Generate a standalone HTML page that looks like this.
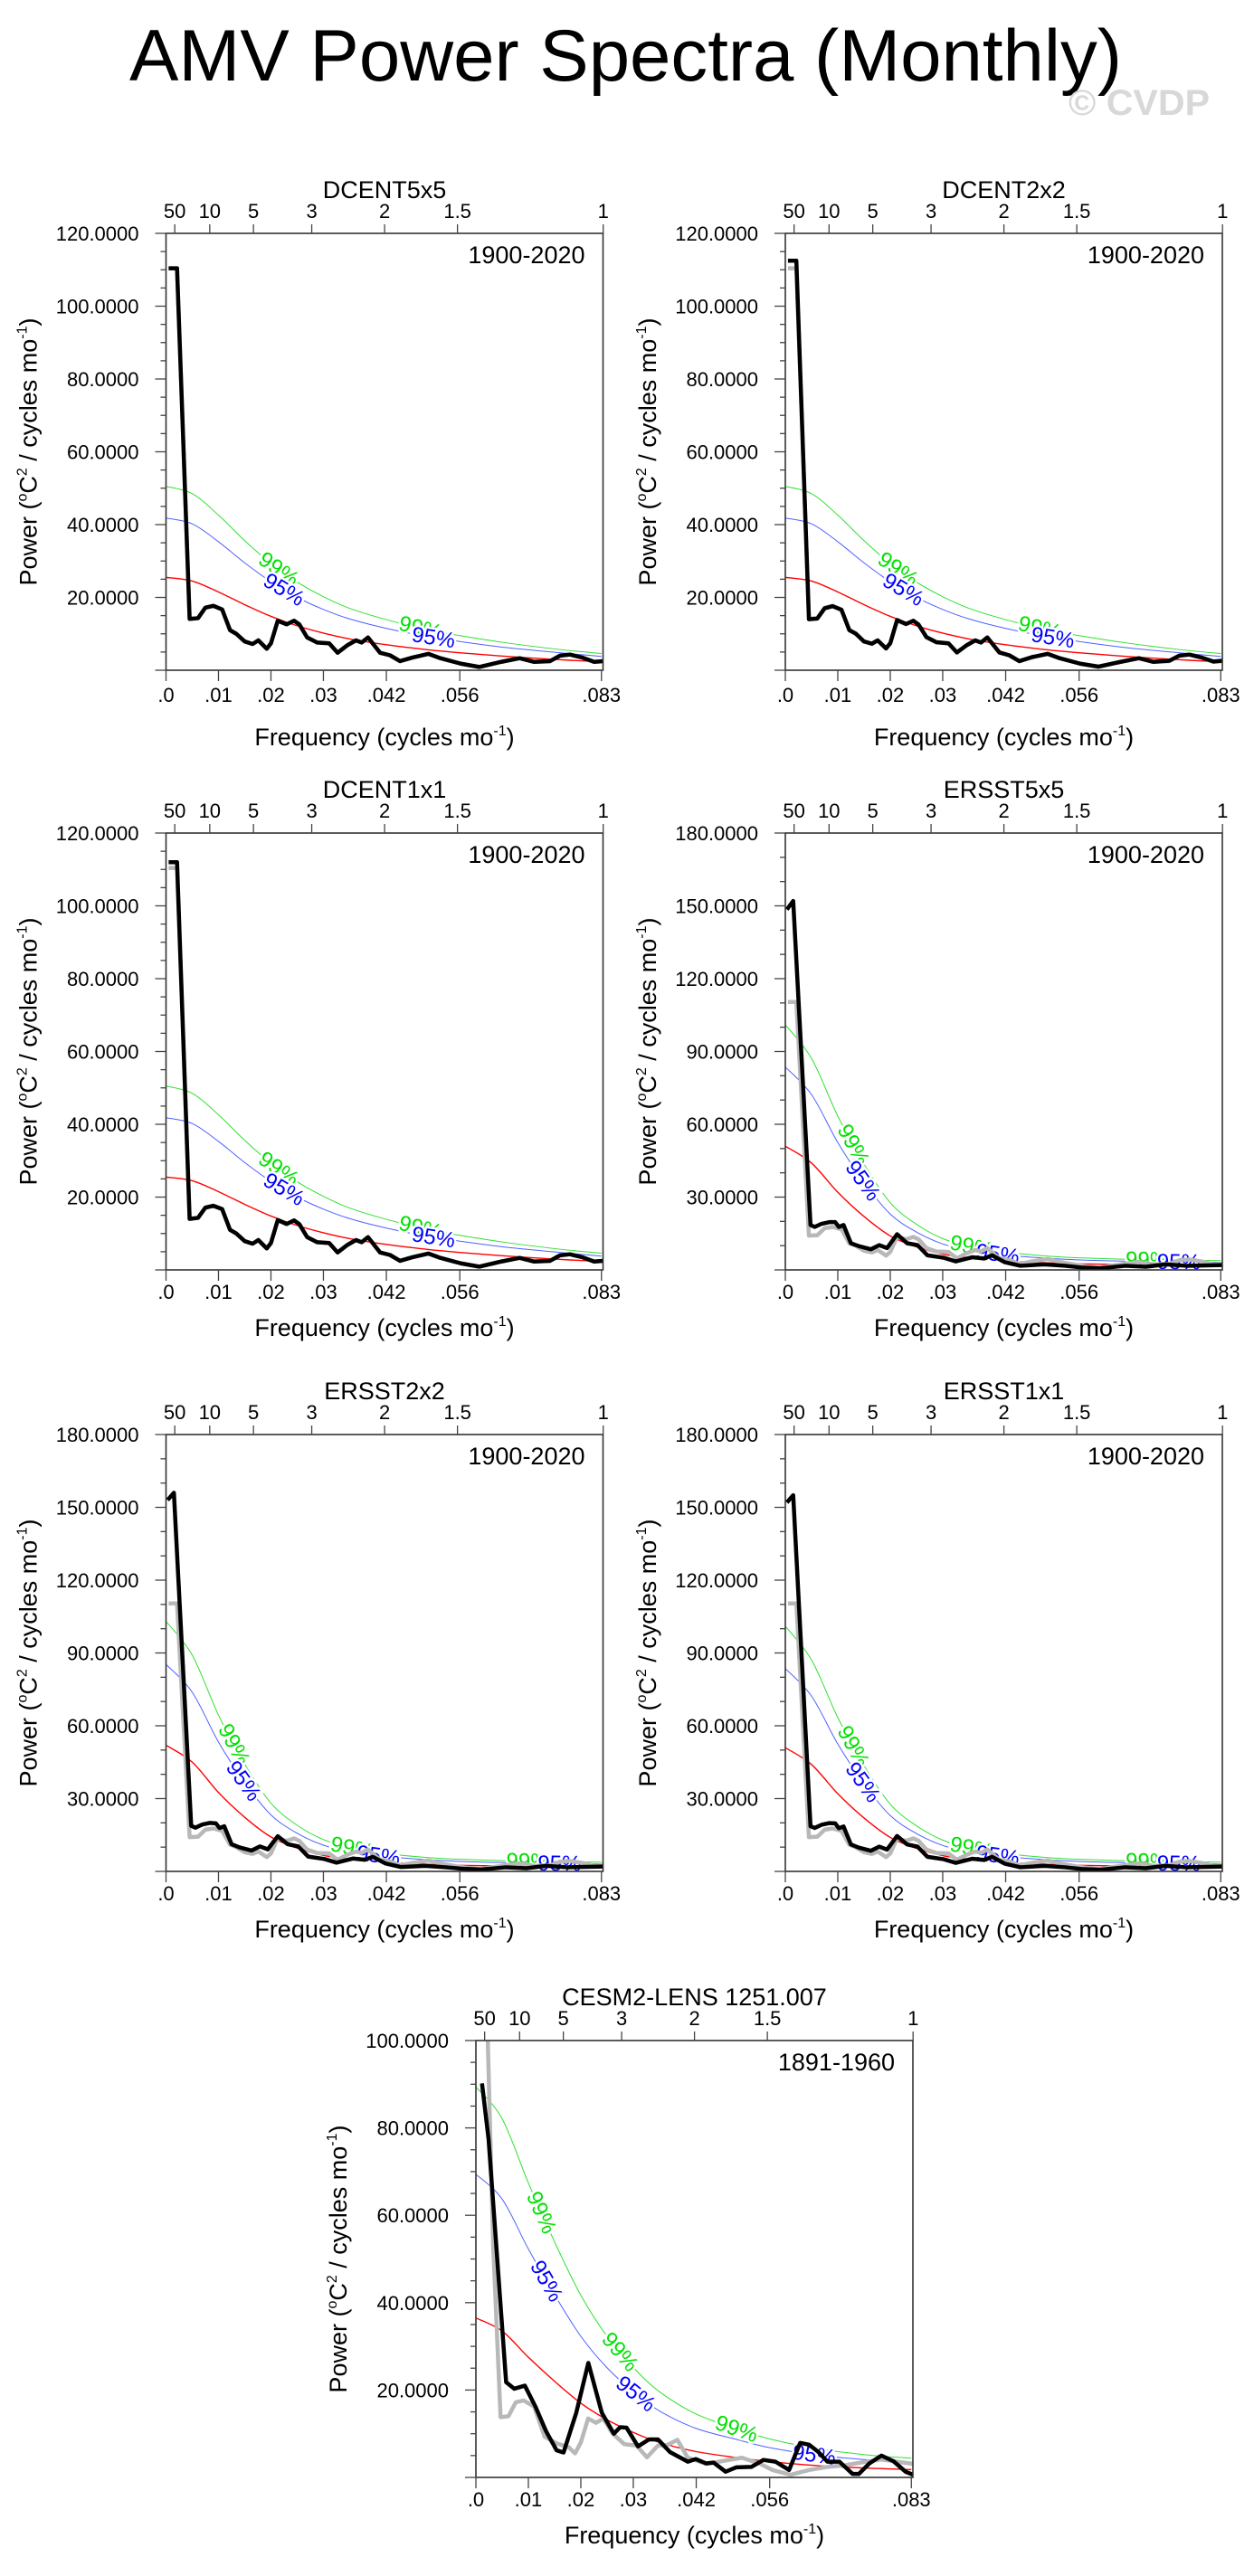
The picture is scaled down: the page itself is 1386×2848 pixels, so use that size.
<!DOCTYPE html>
<html><head><meta charset="utf-8">
<style>
html,body{margin:0;padding:0;background:#fff;}
svg{display:block;font-family:"Liberation Sans",Arial,sans-serif;}
</style></head>
<body>
<svg id="fig" xmlns="http://www.w3.org/2000/svg" width="1386" height="2848" viewBox="0 0 1386 2848">
<rect x="0" y="0" width="1386" height="2848" fill="#fff"/>
<text x="143" y="89" font-size="81" textLength="1097" lengthAdjust="spacingAndGlyphs" fill="#000">AMV Power Spectra (Monthly)</text>
<text x="1181" y="127" font-size="40" font-weight="bold" textLength="156" lengthAdjust="spacingAndGlyphs" fill="#d8d8d8">© CVDP</text>
</svg>
<script>
// ---- shared grids ----
const confFreq = [0,0.005,0.01,0.015,0.02,0.025,0.03,0.035,0.042,0.05,0.056,0.065,0.075,0.083];
const xTickValues = [0,0.01,0.02,0.03,0.042,0.056,0.083];
const xTickLabels = [".0",".01",".02",".03",".042",".056",".083"];
const periodYears = [50,10,5,3,2,1.5,1];
const periodLabels = ["50","10","5","3","2","1.5","1"];

// ---- DCENT spectra ----
const dcentFreq = [0.0005,0.0021,0.0045,0.0061,0.0075,0.009,0.0107,0.0122,0.0134,0.015,0.0165,0.0176,0.0192,0.02,0.0213,0.023,0.0244,0.0254,0.0269,0.0288,0.0311,0.0327,0.0346,0.0362,0.0373,0.0385,0.0408,0.0427,0.0446,0.047,0.05,0.0523,0.0562,0.0597,0.0639,0.0674,0.0701,0.0732,0.0751,0.077,0.0793,0.0816,0.0833];
const dcent5Power = [110.4,110.4,14.1,14.3,17.2,17.7,16.7,11.0,10.0,7.9,7.2,8.2,5.9,7.4,13.6,12.6,13.6,12.6,9.0,7.6,7.4,4.8,6.9,8.2,7.6,9.0,4.8,4.1,2.5,3.5,4.5,3.3,1.8,0.9,2.3,3.3,2.3,2.5,4.0,4.3,3.5,2.3,2.5];
const dcent2Power = [112.5,112.5,14.0,14.2,17.0,17.6,16.6,11.0,10.1,7.9,7.3,8.2,6.0,7.4,13.8,12.7,13.6,12.5,9.1,7.7,7.4,4.9,6.9,8.2,7.6,9.0,4.9,4.1,2.5,3.6,4.5,3.3,1.8,1.0,2.3,3.3,2.3,2.6,4.0,4.3,3.5,2.4,2.6];
const dcent1Power = [112.0,112.0,14.0,14.3,17.1,17.6,16.7,11.0,10.0,7.9,7.2,8.2,5.9,7.4,13.7,12.6,13.6,12.6,9.0,7.6,7.4,4.8,6.9,8.2,7.6,9.0,4.8,4.1,2.5,3.5,4.5,3.3,1.8,0.9,2.3,3.3,2.3,2.5,4.0,4.3,3.5,2.3,2.5];
const dcentRed = [25.5,24.5,21.5,18.0,14.8,12.2,10.2,8.6,7.0,5.6,4.8,3.8,2.9,2.3];
const dcentBlue = [41.8,40.2,35.3,29.5,24.3,20.0,16.7,14.1,11.5,9.2,7.9,6.2,4.8,3.8];
const dcentGreen = [50.5,48.5,42.6,35.6,29.3,24.2,20.2,17.0,13.9,11.1,9.5,7.5,5.7,4.6];

// ---- ERSST spectra ----
const ersstFreq = [0.0003,0.0015,0.0048,0.0056,0.0069,0.0084,0.0095,0.0102,0.0111,0.0125,0.014,0.0163,0.0179,0.0194,0.0213,0.0232,0.0252,0.0271,0.0302,0.0325,0.0356,0.0379,0.0394,0.0418,0.0448,0.0494,0.0533,0.0564,0.0602,0.0648,0.0687,0.0725,0.0764,0.0833];
const ersst5Power = [148.5,152,18.5,17.7,19,19.7,19.7,17.7,18.5,11,9.8,8.5,10.2,9,14.7,11,10.2,6,5,3.5,5.2,4.7,6,3.2,1.7,2.3,1.7,1,0.7,1.7,1.3,2.3,1.7,2];
const ersst2Power = [153,156,18.8,18.0,19.3,20.0,19.8,17.9,18.6,11.2,9.9,8.6,10.3,9.1,14.5,11.2,10.3,6.1,5.1,3.6,5.3,4.8,6.0,3.3,1.8,2.3,1.7,1.1,0.8,1.7,1.3,2.3,1.7,2];
const ersst1Power = [152,155,18.6,17.9,19.2,19.9,19.8,17.8,18.5,11.1,9.8,8.5,10.2,9.0,14.6,11.1,10.2,6.0,5.0,3.5,5.2,4.7,6.0,3.2,1.7,2.3,1.7,1.0,0.7,1.7,1.3,2.3,1.7,2];
const ersstRed = [51,44,32,22,14,9.5,6.5,5.0,3.7,2.9,2.5,2.2,2.0,1.9];
const ersstBlue = [83.6,72.2,52.5,36.1,23.0,15.6,10.7,8.2,6.1,4.8,4.1,3.6,3.3,3.1];
const ersstGreen = [101,87.1,63.4,43.6,27.7,18.8,12.9,9.9,7.3,5.7,5.0,4.4,4.0,3.8];
const ersst2Red = [52,45,32.5,22.3,14.2,9.6,6.6,5.0,3.7,2.9,2.5,2.2,2.0,1.9];
const ersst2Blue = [85.3,73.8,53.3,36.6,23.3,15.7,10.8,8.2,6.1,4.8,4.1,3.6,3.3,3.1];
const ersst2Green = [103,89.1,64.4,44.2,28.1,19.0,13.1,9.9,7.3,5.7,5.0,4.4,4.0,3.8];

// ---- CESM2-LENS spectra ----
const cesmFreq = [0.00116,0.00242,0.00576,0.00732,0.00933,0.01135,0.01336,0.01538,0.01671,0.01913,0.02143,0.024,0.0263,0.0275,0.0287,0.0309,0.033,0.0347,0.037,0.0404,0.0419,0.0439,0.0453,0.0476,0.0496,0.0525,0.0548,0.0571,0.0597,0.0618,0.0635,0.0653,0.067,0.0693,0.0718,0.073,0.075,0.0773,0.0796,0.0819,0.0834];
const cesmPower = [90.2,77.4,21.8,20.3,21.0,16.2,10.6,6.2,5.7,14.8,26.2,14.8,10,11.5,11.4,7.1,8.7,8.7,5.8,3.6,4.2,3.2,3.4,1.3,2.3,2.4,4.0,3.6,1.7,7.9,7.5,5.8,3.6,3.6,0.8,0.8,3.2,5.0,3.7,1.3,0.6];
const cesmObsFreq = [0.0005,0.0020,0.0033,0.0047,0.0062,0.0076,0.0091,0.0111,0.0131,0.0154,0.0177,0.0189,0.02,0.0214,0.0229,0.0243,0.026,0.0283,0.0306,0.0326,0.0347,0.0364,0.0384,0.0404,0.0439,0.0473,0.0507,0.0542,0.0565,0.06,0.0635,0.067,0.0704,0.0739,0.0773,0.0808,0.0834];
const cesmObsPower = [112,112,52.9,13.8,14,17.2,17.6,16.2,9.3,7.8,6.9,5.5,8,13.5,12.5,13.5,10.1,7.6,7.3,4.6,7.3,7.4,8.6,4.5,3.1,3.8,4.5,3.1,1.7,0.6,1.7,2.4,2.8,3.5,4.1,3.5,3.1];
const cesmRed = [36.5,33.5,27.5,22,17,13.2,10.3,8.0,5.9,4.5,3.6,2.7,2.1,1.8];
const cesmBlue = [69.4,63.7,52.3,41.8,32.3,25.1,19.6,15.2,11.2,8.6,6.8,5.1,4.0,3.4];
const cesmGreen = [89.4,82.1,67.4,53.9,41.7,32.3,25.2,19.6,14.5,11.0,8.8,6.6,5.1,4.4];

// ---- panel definitions ----
const panels = [
 {id:"dcent5x5", title:"DCENT5x5", L:183.5, T:258, ymax:120, ystep:20, minor:5, year:"1900-2020", yearDx:20, row1:true, f:dcentFreq, p:dcent5Power, of:dcentFreq, op:dcent5Power, red:dcentRed, blue:dcentBlue, green:dcentGreen, g99:[0.0215,0.0485], b95:[0.0225,0.051]},
 {id:"dcent2x2", title:"DCENT2x2", L:868, T:258, ymax:120, ystep:20, minor:5, year:"1900-2020", yearDx:20, row1:true, f:dcentFreq, p:dcent2Power, of:dcentFreq, op:dcent5Power, red:dcentRed, blue:dcentBlue, green:dcentGreen, g99:[0.0215,0.0485], b95:[0.0225,0.051]},
 {id:"dcent1x1", title:"DCENT1x1", L:183.5, T:921, ymax:120, ystep:20, minor:5, year:"1900-2020", yearDx:20, f:dcentFreq, p:dcent1Power, of:dcentFreq, op:dcent5Power, red:dcentRed, blue:dcentBlue, green:dcentGreen, g99:[0.0215,0.0485], b95:[0.0225,0.051]},
 {id:"ersst5x5", title:"ERSST5x5", L:868, T:921, ymax:180, ystep:30, minor:10, year:"1900-2020", yearDx:20, f:ersstFreq, p:ersst5Power, of:dcentFreq, op:dcent5Power, red:ersstRed, blue:ersstBlue, green:ersstGreen, g99:[0.013,0.0355,0.069], b95:[0.0148,0.0405,0.075]},
 {id:"ersst2x2", title:"ERSST2x2", L:183.5, T:1586, ymax:180, ystep:30, minor:10, year:"1900-2020", yearDx:20, f:ersstFreq, p:ersst2Power, of:dcentFreq, op:dcent5Power, red:ersst2Red, blue:ersst2Blue, green:ersst2Green, g99:[0.013,0.0355,0.069], b95:[0.0148,0.0405,0.075]},
 {id:"ersst1x1", title:"ERSST1x1", L:868, T:1586, ymax:180, ystep:30, minor:10, year:"1900-2020", yearDx:20, f:ersstFreq, p:ersst1Power, of:dcentFreq, op:dcent5Power, red:ersstRed, blue:ersstBlue, green:ersstGreen, g99:[0.013,0.0355,0.069], b95:[0.0148,0.0405,0.075]},
 {id:"cesm2-lens", title:"CESM2-LENS 1251.007", L:526, T:2256, ymax:100, ystep:20, minor:5, year:"1891-1960", yearDx:20, f:cesmFreq, p:cesmPower, of:cesmObsFreq, op:cesmObsPower, red:cesmRed, blue:cesmBlue, green:cesmGreen, g99:[0.0125,0.0275,0.0497], b95:[0.0135,0.0305,0.0645]}
];

const NS = "http://www.w3.org/2000/svg";
const svg = document.getElementById("fig");
const S = 483, XMAX = 0.0833;

function mk(tag, attrs, parent) {
  const e = document.createElementNS(NS, tag);
  for (const k in attrs) e.setAttribute(k, attrs[k]);
  parent.appendChild(e);
  return e;
}
function linePath(xs, ys) {
  return xs.map((x, i) => (i ? "L" : "M") + x.toFixed(2) + " " + ys[i].toFixed(2)).join(" ");
}
function smoothPath(xs, ys) {
  let d = "M" + xs[0].toFixed(2) + " " + ys[0].toFixed(2);
  for (let i = 0; i < xs.length - 1; i++) {
    const x0 = xs[Math.max(i - 1, 0)], y0 = ys[Math.max(i - 1, 0)];
    const x1 = xs[i], y1 = ys[i], x2 = xs[i + 1], y2 = ys[i + 1];
    const x3 = xs[Math.min(i + 2, xs.length - 1)], y3 = ys[Math.min(i + 2, xs.length - 1)];
    d += " C" + (x1 + (x2 - x0) / 6).toFixed(2) + " " + (y1 + (y2 - y0) / 6).toFixed(2) + " " +
      (x2 - (x3 - x1) / 6).toFixed(2) + " " + (y2 - (y3 - y1) / 6).toFixed(2) + " " + x2.toFixed(2) + " " + y2.toFixed(2);
  }
  return d;
}
function interp(xs, ys, x) {
  for (let i = 0; i < xs.length - 1; i++) {
    if (x >= xs[i] && x <= xs[i + 1]) { const t = (x - xs[i]) / (xs[i + 1] - xs[i]); return ys[i] + t * (ys[i + 1] - ys[i]); }
  }
  return ys[ys.length - 1];
}

panels.forEach((pn, idx) => {
  const L = pn.L, T = pn.T, R = L + S, B = T + S;
  const xs = f => L + f / XMAX * S;
  const ys = v => B - v / pn.ymax * S;
  const g = mk("g", {}, svg);
  
  

  const clipId = "clip" + idx;
  const cp = mk("clipPath", {id: clipId}, g);
  mk("rect", {x: L, y: T, width: S, height: S}, cp);

  const cx = confFreq.map(xs);
  const conf = [["red-noise-curve", pn.red, "#ff0000", 1.4], ["conf-95-curve", pn.blue, "#5060ff", 1], ["conf-99-curve", pn.green, "#30e030", 1]];
  conf.forEach(c => {
    const p = mk("path", {d: smoothPath(cx, c[1].map(ys)), fill: "none", stroke: c[2], "stroke-width": c[3], "clip-path": "url(#" + clipId + ")"}, g);
    
    
  });
  const lab = [[pn.g99, pn.green, "99%", "#00e000", "label-99-percent"], [pn.b95, pn.blue, "95%", "#0000ff", "label-95-percent"]];
  lab.forEach(lb => {
    lb[0].forEach(fr => {
      const x = xs(fr), y = ys(interp(confFreq, lb[1], fr));
      const xa = xs(fr - 0.0012), ya = ys(interp(confFreq, lb[1], fr - 0.0012));
      const xb = xs(fr + 0.0012), yb = ys(interp(confFreq, lb[1], fr + 0.0012));
      const ang = Math.atan2(yb - ya, xb - xa) * 180 / Math.PI;
      const t = mk("text", {x: x, y: y + 8, "font-size": 24, fill: lb[3], "text-anchor": "middle", stroke: "#fff", "stroke-width": 5, "paint-order": "stroke", transform: "rotate(" + ang.toFixed(1) + " " + x.toFixed(1) + " " + y.toFixed(1) + ")"}, g);
      t.textContent = lb[2];
      
      
    });
  });

  const gp = mk("path", {d: linePath(pn.of.map(xs), pn.op.map(ys)), fill: "none", stroke: "#b8b8b8", "stroke-width": 4.5, "stroke-linejoin": "round", "clip-path": "url(#" + clipId + ")"}, g);
  
  
  const bp = mk("path", {d: linePath(pn.f.map(xs), pn.p.map(ys)), fill: "none", stroke: "#000", "stroke-width": 4.5, "stroke-linejoin": "round", "clip-path": "url(#" + clipId + ")"}, g);
  
  

  const fr = mk("rect", {x: L, y: T, width: S, height: S, fill: "none", stroke: "#333", "stroke-width": 1.6}, g);
  
  

  for (let v = 0; v <= pn.ymax + 0.001; v += pn.minor) {
    const y = ys(v);
    const major = Math.abs(v / pn.ystep - Math.round(v / pn.ystep)) < 1e-6;
    const tk = mk("line", {x1: L - (major ? 12 : 6), x2: L, y1: y, y2: y, stroke: "#444", "stroke-width": 1.3}, g);
    
    
    if (major && v > 0) {
      const t = mk("text", {x: L - 30, y: y + 8, "font-size": 22, "text-anchor": "end", fill: "#000"}, g);
      t.textContent = v.toFixed(4);
      
      
    }
  }
  const lblOff = pn.row1 ? 35 : 32, titleOff = pn.row1 ? 83 : 73;
  xTickValues.forEach((v, i) => {
    const x = xs(v);
    const tk = mk("line", {x1: x, x2: x, y1: B, y2: B + 12, stroke: "#444", "stroke-width": 1.3}, g);
    
    
    const t = mk("text", {x: x, y: B + lblOff, "font-size": 22, "text-anchor": "middle", fill: "#000"}, g);
    t.textContent = xTickLabels[i];
    
    
  });
  periodYears.forEach((yr, i) => {
    const x = xs(1 / (12 * yr));
    const tk = mk("line", {x1: x, x2: x, y1: T, y2: T - 10, stroke: "#444", "stroke-width": 1.3}, g);
    
    
    const t = mk("text", {x: x, y: T - 17, "font-size": 22, "text-anchor": "middle", fill: "#000"}, g);
    t.textContent = periodLabels[i];
    
    
  });
  const tt = mk("text", {x: L + S / 2, y: T - 39, "font-size": 27, "text-anchor": "middle", fill: "#000"}, g);
  tt.textContent = pn.title;
  
  
  const yr = mk("text", {x: R - pn.yearDx, y: T + 33, "font-size": 27, "text-anchor": "end", fill: "#000"}, g);
  yr.textContent = pn.year;
  
  
  const xt = mk("text", {x: L + S / 2, y: B + titleOff, "font-size": 27, "text-anchor": "middle", fill: "#000"}, g);
  xt.innerHTML = 'Frequency (cycles mo<tspan dy="-11" font-size="16">-1</tspan><tspan dy="11">)</tspan>';
  
  
  const yx = L - 143, yy = T + S / 2;
  const yt = mk("text", {x: yx, y: yy, "font-size": 27, "text-anchor": "middle", fill: "#000", transform: "rotate(-90 " + yx + " " + yy + ")"}, g);
  yt.innerHTML = 'Power (<tspan dy="-11" font-size="16">o</tspan><tspan dy="11">C</tspan><tspan dy="-11" font-size="16">2</tspan><tspan dy="11"> / cycles mo</tspan><tspan dy="-11" font-size="16">-1</tspan><tspan dy="11">)</tspan>';
  
  
});
</script>
</body></html>
